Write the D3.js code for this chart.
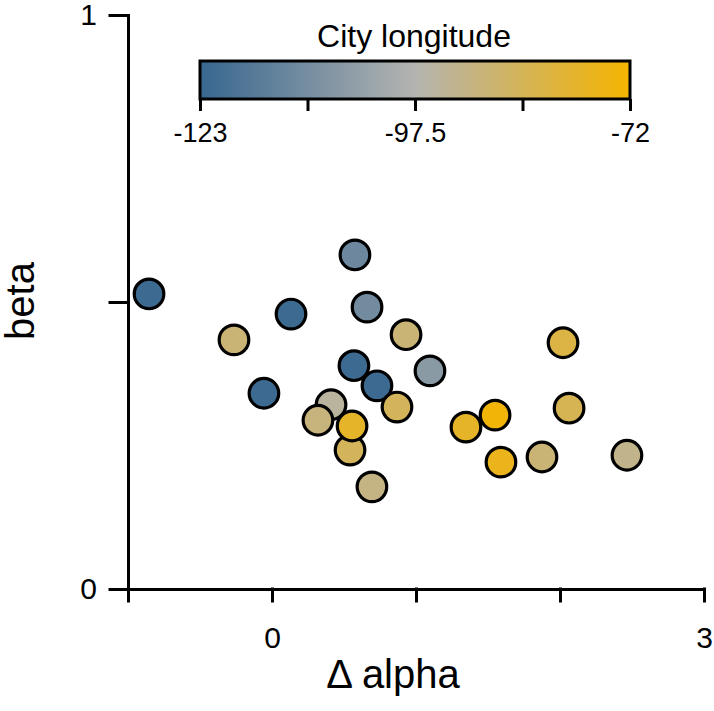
<!DOCTYPE html>
<html><head><meta charset="utf-8">
<script src="https://cdn.jsdelivr.net/npm/d3@7"></script>
<style>body{margin:0;background:#fff}svg{display:block}text{font-family:"Liberation Sans",Arial,sans-serif;fill:#000}</style>
</head><body>
<svg id="c" width="714" height="711"></svg>
<script>
// data
const deltaAlpha = [-0.854,0.132,-0.264,0.576,0.660,0.931,0.569,1.097,-0.056,0.729,0.868,0.410,0.319,0.542,0.556,0.694,1.347,1.549,2.021,2.063,1.590,1.875,2.465];
const beta       = [0.514,0.479,0.434,0.582,0.491,0.443,0.389,0.380,0.341,0.354,0.317,0.321,0.294,0.242,0.284,0.178,0.282,0.303,0.429,0.315,0.221,0.230,0.233];
const longitude  = [-122,-122,-89,-112,-111,-89,-122,-106,-122,-122,-85,-95,-90,-85,-78,-91,-78,-73,-82,-84,-76,-89,-92];
const xTicks = [-1,0,1,2,3];
const xTickLabels = ["","0","","","3"];
const yTicks = [0,0.5,1];
const yTickLabels = ["0","","1"];
const legendTicks = [-123,-110.25,-97.5,-84.75,-72];
const legendTickLabels = ["-123","","-97.5","","-72"];
const colorStops = [-123,-97.5,-72];
const colorRange = ["#376790","#b4b4b0","#f5b400"];

const svg = d3.select("#c");
const x = d3.scaleLinear().domain([-1,3]).range([128,704]);
const y = d3.scaleLinear().domain([0,1]).range([589,15]);
const color = d3.scaleLinear().domain(colorStops).range(colorRange);

// axes
const gx = svg.append("g").attr("transform","translate(0,"+y(0)+")")
  .call(d3.axisBottom(x).tickValues(xTicks).tickSize(12).tickSizeOuter(0).tickPadding(26)
    .tickFormat((d,i)=>xTickLabels[i]));
const gy = svg.append("g").attr("transform","translate("+x(-1)+",0)")
  .call(d3.axisLeft(y).tickValues(yTicks).tickSize(18).tickSizeOuter(0).tickPadding(13)
    .tickFormat((d,i)=>yTickLabels[i]));
[gx,gy].forEach(g=>{
  g.selectAll("path,line").attr("stroke","#000").attr("stroke-width",3).attr("stroke-linecap","square");
  g.selectAll("text").style("font-size","30px").style("font-family",'"Liberation Sans",Arial,sans-serif').attr("fill","#000");
});
gx.selectAll("text").attr("dy","0.71em");

// axis titles
svg.append("text").attr("x",393).attr("y",688).attr("text-anchor","middle")
  .style("font-size","40px").text("Δ alpha");
svg.append("text").attr("transform","translate(34,301) rotate(-90)").attr("text-anchor","middle")
  .style("font-size","40px").text("beta");

// points
const pts = deltaAlpha.map((d,i)=>({x:d,y:beta[i],lon:longitude[i]}));
svg.append("g").selectAll("circle").data(pts).join("circle")
  .attr("cx",d=>x(d.x)).attr("cy",d=>y(d.y)).attr("r",14.8)
  .attr("fill",d=>color(d.lon)).attr("stroke","#000").attr("stroke-width",3.2);

// legend
const lx = d3.scaleLinear().domain([-123,-72]).range([200,630]);
const defs = svg.append("defs");
const grad = defs.append("linearGradient").attr("id","lg").attr("x1","0%").attr("x2","100%");
d3.range(0,11).forEach(i=>{
  const v = -123 + i*5.1;
  grad.append("stop").attr("offset",(i*10)+"%").attr("stop-color",color(v));
});
svg.append("rect").attr("x",lx(-123)).attr("y",61).attr("width",lx(-72)-lx(-123)).attr("height",38)
  .attr("fill","url(#lg)").attr("stroke","#000").attr("stroke-width",3);
const gl = svg.append("g").attr("transform","translate(0,99)")
  .call(d3.axisBottom(lx).tickValues(legendTicks).tickSize(12).tickSizeOuter(0).tickPadding(12)
    .tickFormat((d,i)=>legendTickLabels[i]));
gl.select(".domain").remove();
gl.selectAll("line").attr("stroke","#000").attr("stroke-width",3);
gl.selectAll("text").style("font-size","27px").style("font-family",'"Liberation Sans",Arial,sans-serif').attr("fill","#000");
svg.append("text").attr("x",414).attr("y",47).attr("text-anchor","middle")
  .style("font-size","32px").text("City longitude");
</script>
</body></html>
